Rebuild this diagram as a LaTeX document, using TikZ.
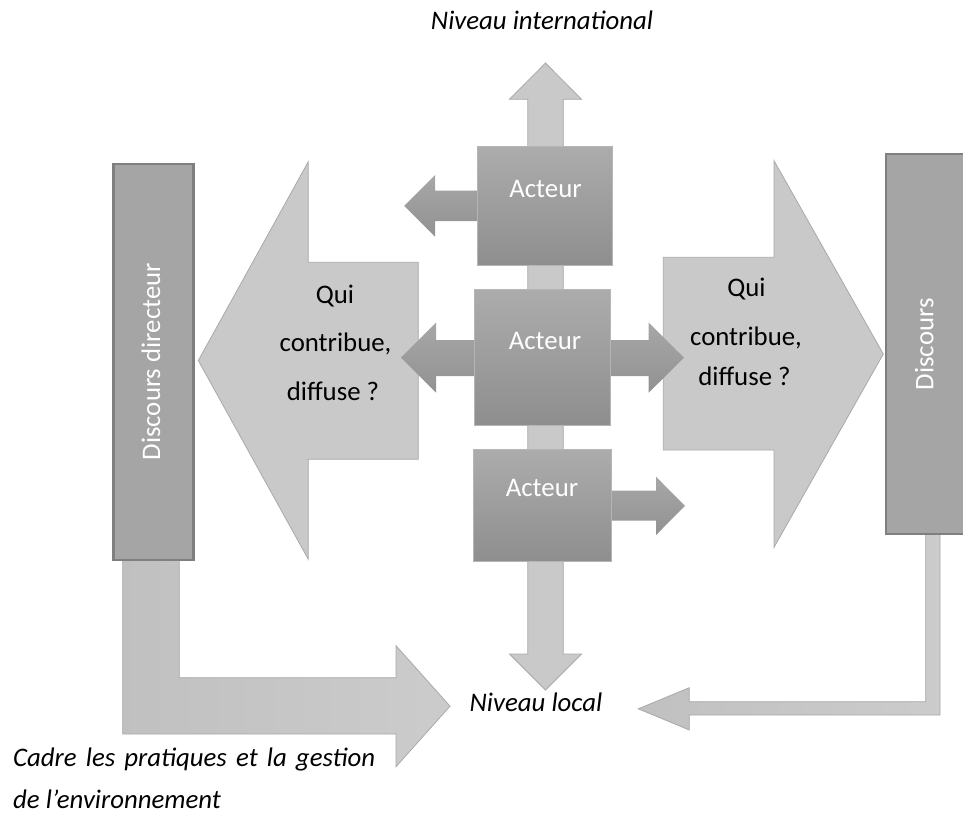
\documentclass[tikz,border=0pt]{standalone}
\usepackage{fontspec}
\setmainfont{Carlito}
\definecolor{lightfill}{HTML}{C9C9C9}
\definecolor{lightedge}{HTML}{A9A9A9}
\definecolor{darkfill}{HTML}{A2A2A2}
\definecolor{acttop}{HTML}{ACACAC}
\definecolor{actbot}{HTML}{8E8E8E}
\definecolor{actedge}{HTML}{B5B5B5}
\definecolor{discfill}{HTML}{A5A5A5}
\definecolor{discedge}{HTML}{7F7F7F}
\newcommand\bigf{\fontsize{26.8}{32}\selectfont}
\begin{document}
\begin{tikzpicture}[x=1pt,y=-1pt,
  lightarrow/.style={fill=lightfill, draw=lightedge, line width=0.8pt, line join=miter},
  larrow/.style={left color=lightfill!88!gray, right color=lightfill!95!white, draw=lightedge, line width=0.8pt},
  darkarrow/.style={top color=darkfill!95!white, bottom color=darkfill!90!black, draw=none},
  actbox/.style={draw=actedge, line width=0.8pt, top color=acttop, bottom color=actbot, inner sep=0pt},
  discbox/.style={draw=discedge, fill=discfill, line width=2.4pt, inner sep=0pt},
  whitetext/.style={text=white, font=\bigf, inner sep=0pt},
  blacktext/.style={text=black, font=\bigf, inner sep=0pt},
  italtext/.style={text=black, font=\bigf\itshape, inner sep=0pt}]
\useasboundingbox (0,0) rectangle (963,820);

% vertical double arrow (international <-> local)
\draw[lightarrow] (545.5,63) -- (581.5,99.3) -- (563.3,99.3) -- (563.3,654) -- (581.5,654)
  -- (545.5,690) -- (509.5,654) -- (527.8,654) -- (527.8,99.3) -- (509.5,99.3) -- cycle;

% big left arrow
\draw[lightarrow] (198.3,360.5) -- (308.3,161.7) -- (308.3,262.3) -- (418.3,262.3)
  -- (418.3,459.3) -- (308.3,459.3) -- (308.3,559.3) -- cycle;
% big right arrow
\draw[lightarrow] (663.3,257.3) -- (774,257.3) -- (774,160.7) -- (883.3,354)
  -- (774,547.3) -- (774,450) -- (663.3,450) -- cycle;

% L arrows
\draw[larrow] (122.7,555) -- (179.3,555) -- (179.3,677.7) -- (396,677.7) -- (396,645.7)
  -- (450,706.2) -- (396,766.7) -- (396,734) -- (122.7,734) -- cycle;
\draw[larrow] (925.7,530) -- (940,530) -- (940,715) -- (689.3,715) -- (689.3,730)
  -- (638.3,708.8) -- (689.3,687.7) -- (689.3,701.7) -- (925.7,701.7) -- cycle;

% discourse boxes
\node[discbox, minimum width=80pt, minimum height=396pt] (dd) at (153.3,361.7) {};
\node[discbox, minimum width=78pt, minimum height=380pt] (dr) at (925,344.2) {};
\node[whitetext, rotate=90, anchor=base] (ddt) at (160,361.7) {Discours directeur};
\node[whitetext, rotate=90, anchor=base] (drt) at (933.3,344.2) {Discours};

% actor arrows
\draw[darkarrow] (404.3,205.8) -- (435,175) -- (435,190.7) -- (480,190.7) -- (480,221)
  -- (435,221) -- (435,236.7) -- cycle;
\draw[darkarrow] (401,357.7) -- (436,322.7) -- (436,340) -- (648.7,340) -- (648.7,322.7)
  -- (684,357.7) -- (648.7,392.7) -- (648.7,376) -- (436,376) -- (436,392.7) -- cycle;
\draw[darkarrow] (600,490.7) -- (656,490.7) -- (656,476.7) -- (685,505.9) -- (656,535)
  -- (656,520.7) -- (600,520.7) -- cycle;

% actor boxes
\node[actbox, minimum width=135pt, minimum height=119pt] (a1) at (545.2,205.7) {};
\node[actbox, minimum width=135.5pt, minimum height=135.5pt] (a2) at (542.5,357.5) {};
\node[actbox, minimum width=137.5pt, minimum height=111.5pt] (a3) at (542.5,505.5) {};
\node[whitetext, anchor=base] (a1t) at (545.5,197.3) {Acteur};
\node[whitetext, anchor=base] (a2t) at (545,349.3) {Acteur};
\node[whitetext, anchor=base] (a3t) at (542,496.7) {Acteur};

% question texts
\node[blacktext, anchor=base] (q1) at (335,303.3) {Qui};
\node[blacktext, anchor=base] (q2) at (335.5,351.7) {contribue,};
\node[blacktext, anchor=base] (q3) at (333,400) {diffuse ?};
\node[blacktext, anchor=base] (r1) at (746.5,296.7) {Qui};
\node[blacktext, anchor=base] (r2) at (746,345) {contribue,};
\node[blacktext, anchor=base] (r3) at (744.5,385) {diffuse ?};

% level labels
\node[italtext, anchor=base] (intl) at (542,29.3) {Niveau international};
\node[italtext, anchor=base] (loc) at (536,711.7) {Niveau local};
\node[italtext, anchor=base west] (c1) at (13,766) {\makebox[362pt][s]{Cadre les pratiques et la gestion}};
\node[italtext, anchor=base west] (c2) at (13,808) {de l’environnement};
\end{tikzpicture}
\end{document}
